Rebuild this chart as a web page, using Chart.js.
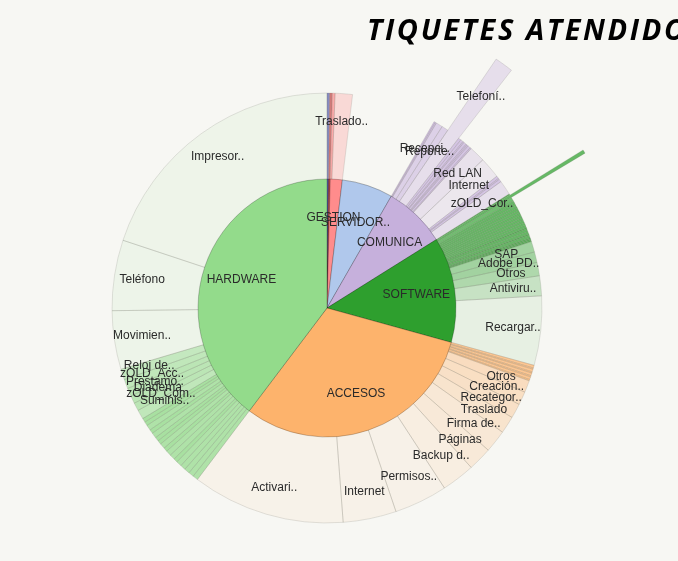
<!DOCTYPE html>
<html>
<head>
<meta charset="utf-8">
<script src="https://cdn.jsdelivr.net/npm/chart.js@4.4.1/dist/chart.umd.min.js"></script>
<style>
  html, body { margin: 0; padding: 0; background: #f7f7f3; overflow: hidden; }
  #wrap { position: relative; width: 678px; height: 561px; overflow: hidden; }
  #title {
    position: absolute; left: 367px; top: 9px; white-space: nowrap;
    font-family: "Open Sans", sans-serif; font-weight: 700; font-style: italic;
    font-size: 29px; letter-spacing: 2.6px; color: #000;
  }
  canvas { position: absolute; left: 0; top: 0; }
</style>
</head>
<body>
<div id="wrap">
  <canvas id="chart" width="678" height="561"></canvas>
  <div id="title">TIQUETES ATENDIDOS</div>
</div>
<script>
// ----- Inner ring: categories, clockwise from 12 o'clock ("" = too small to label) -----
var categories = ["", "", "GESTION", "SERVIDOR..", "COMUNICA", "SOFTWARE", "ACCESOS", "HARDWARE"];

// ----- Outer ring: subcategories (parent index, label, tickets, radial size) -----
var subParent = [
  0,
  1,
  2, 2,
  3,
  4, 4, 4, 4, 4, 4, 4, 4, 4, 4, 4, 4, 4, 4, 4, 4, 4, 4, 4,
  5, 5, 5, 5, 5, 5, 5, 5, 5, 5, 5, 5, 5, 5, 5, 5, 5, 5, 5, 5, 5, 5, 5, 5, 5, 5, 5,
  6, 6, 6, 6, 6, 6, 6, 6, 6, 6, 6, 6, 6, 6, 6, 6, 6, 6,
  7, 7, 7, 7, 7, 7, 7, 7, 7, 7, 7, 7, 7, 7, 7, 7, 7, 7, 7, 7, 7, 7, 7, 7, 7, 7
];
var subLabels = [
  "",
  "",
  "", "Traslado..",
  "Servidor..",
  "", "", "Recepci..", "Reporte..", "Telefoní..", "", "", "", "", "", "", "", "", "Red LAN", "Internet", "", "", "", "zOLD_Cor..",
  "", "", "", "", "", "", "", "", "", "", "", "", "", "", "", "", "", "", "", "", "", "", "SAP", "Adobe PD..", "Otros", "Antiviru..", "Recargar..",
  "", "", "", "", "", "", "", "", "Otros", "Creación..", "Recategor..", "Traslado", "Firma de..", "Páginas", "Backup d..", "Permisos..", "Internet", "Activari..",
  "", "", "", "", "", "", "", "", "", "", "", "", "", "", "", "", "", "Suminis..", "zOLD_Com..", "Diadema", "Prestamo..", "zOLD_Acc..", "Reloj de..", "Movimien..", "Teléfono", "Impresor.."
];
var subTickets = [
  2,
  2,
  2, 13,
  64,
  1, 1, 5, 5, 10, 2, 2, 1, 2, 1, 1, 2, 1, 12, 16, 2, 1, 2, 11,
  1, 2, 3, 2, 2, 2, 2, 2, 2, 2, 2, 2, 2, 2, 1, 2, 2, 1, 2, 1, 1, 1, 8, 8, 10, 15, 52,
  2, 1, 2, 1, 2, 1, 2, 1, 9, 10, 11, 13, 17, 18, 25, 40, 40, 115,
  4, 4, 4, 4, 4, 3, 4, 4, 3, 4, 3, 3, 4, 3, 4, 3, 3, 7, 6, 6, 6, 7, 8, 44, 53, 199
];
var subSize = [
  100,
  100,
  100, 100,
  60,
  100, 100, 100, 100, 140, 100, 100, 100, 100, 100, 100, 100, 100, 100, 100, 100, 100, 100, 100,
  100, 140, 100, 100, 100, 100, 100, 100, 100, 100, 100, 100, 100, 100, 100, 100, 100, 100, 100, 100, 100, 100, 100, 100, 100, 100, 100,
  100, 100, 100, 100, 100, 100, 100, 100, 100, 100, 100, 100, 100, 100, 100, 100, 100, 100,
  100, 100, 100, 100, 100, 100, 100, 100, 100, 100, 100, 100, 100, 100, 100, 100, 100, 100, 100, 100, 100, 100, 100, 100, 100, 100
];

// radial level of the inner ring (same units as subSize)
var INNER_LEVEL = 60;

// Colours per category
var palette = ["#5a62ad", "#c24b4b", "#ff8c8c", "#b0c8ec", "#c6b0dc", "#2e9f2e", "#fdb36c", "#7fd477"];

function rgba(hex, a) {
  var n = parseInt(hex.slice(1), 16);
  return "rgba(" + (n >> 16) + "," + ((n >> 8) & 255) + "," + (n & 255) + "," + a + ")";
}

var total = subTickets.reduce(function(s, v) { return s + v; }, 0);
var parentTickets = categories.map(function(c, p) {
  var s = 0;
  for (var i = 0; i < subTickets.length; i++) if (subParent[i] === p) s += subTickets[i];
  return s;
});
var innerAngles = parentTickets.map(function(t) { return t / total * 360; });
var outerAngles = subTickets.map(function(t) { return t / total * 360; });

// Smaller slices get a stronger tint of their parent colour
var outerColors = subTickets.map(function(t, i) {
  var deg = outerAngles[i];
  return rgba(palette[subParent[i]], (0.07 + 0.8 * Math.exp(-deg / 3.5)).toFixed(3));
});

// Draws ring labels at the middle angle of each arc
var ringLabels = {
  id: "ringLabels",
  afterDatasetsDraw: function(chart) {
    var c = chart.ctx;
    c.save();
    c.textAlign = "center";
    c.textBaseline = "middle";
    c.fillStyle = "#2a2a2a";
    chart.data.datasets.forEach(function(ds, di) {
      var meta = chart.getDatasetMeta(di);
      var names = di === 0 ? categories : subLabels;
      meta.data.forEach(function(arc, i) {
        var name = names[i];
        if (!name) return;
        if (di === 1 && subSize[i] <= INNER_LEVEL) return;
        var p = arc.getProps(["x", "y", "startAngle", "endAngle", "outerRadius"], true);
        var mid = (p.startAngle + p.endAngle) / 2;
        var r = di === 0 ? p.outerRadius * 0.7 : p.outerRadius * 0.87;
        c.font = "12px 'Liberation Sans', Arial, sans-serif";
        c.fillText(name, p.x + Math.cos(mid) * r, p.y + Math.sin(mid) * r);
      });
    });
    c.restore();
  }
};

var ctx = document.getElementById("chart").getContext("2d");
new Chart(ctx, {
  type: "polarArea",
  data: {
    labels: subLabels,
    datasets: [{
      label: "Categoría",
      data: categories.map(function() { return INNER_LEVEL; }),
      angle: function(c) { return innerAngles[c.dataIndex]; },
      backgroundColor: ["#5a62ad", "#c24b4b", "#ff8c8c", "#b0c8ec", "#c6b0dc", "#2e9f2e", "#fdb36c", "#93db8b"],
      borderColor: "rgba(0,0,0,0.22)",
      borderWidth: 1,
    }, {
      label: "Subcategoría",
      data: subSize,
      angle: function(c) { return outerAngles[c.dataIndex]; },
      backgroundColor: outerColors,
      borderColor: "rgba(120,120,110,0.28)",
      borderWidth: 0.7,
    }],
  },
  options: {
    responsive: false,
    animation: false,
    layout: { padding: { left: 0, right: 24, top: 55, bottom: 0 } },
    plugins: {
      legend: { display: false },
      tooltip: { enabled: false },
    },
    scales: {
      r: {
        min: 0,
        max: 117.7,
        ticks: { display: false },
        grid: { display: false },
        angleLines: { display: false },
        pointLabels: { display: false },
      },
    },
  },
  plugins: [ringLabels],
});
</script>
</body>
</html>
